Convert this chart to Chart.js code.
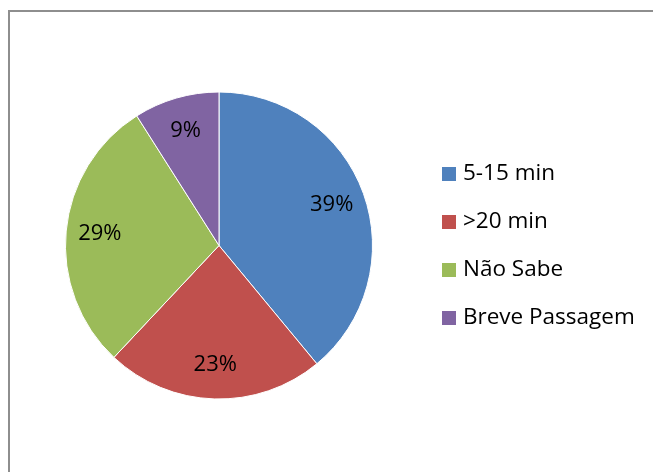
<!DOCTYPE html>
<html>
<head>
<meta charset="utf-8">
<script src="https://cdn.jsdelivr.net/npm/chart.js@4"></script>
<style>
  body { margin: 0; background: #fff; }
  #frame {
    position: absolute; left: 8px; top: 10px; width: 700px; height: 500px;
    border-left: 2px solid #8e8e8e; border-top: 2px solid #8e8e8e;
  }
  #wrap { position: absolute; left: 0; top: 0; width: 653px; height: 472px; }
</style>
</head>
<body>
<div id="frame"></div>
<div id="wrap"><canvas id="chart" width="653" height="472"></canvas></div>
<script>
// chart data
var categories = ["5-15 min", ">20 min", "Não Sabe", "Breve Passagem"];
var percents = [39, 23, 29, 9];
var colors = ["#4F81BD", "#C0504D", "#9BBB59", "#8064A2"];
var fontFamily = "'Open Sans', sans-serif";

// percent labels inside the slices
const sliceLabels = {
  id: "sliceLabels",
  afterDatasetsDraw(chart) {
    const ctx = chart.ctx;
    const meta = chart.getDatasetMeta(0);
    ctx.save();
    ctx.font = "22px " + fontFamily;
    ctx.fillStyle = "#000";
    ctx.textAlign = "center";
    ctx.textBaseline = "middle";
    meta.data.forEach((arc, i) => {
      const p = arc.getProps(["x", "y", "startAngle", "endAngle", "outerRadius"], true);
      const mid = (p.startAngle + p.endAngle) / 2;
      const r = p.outerRadius * 0.78;
      ctx.fillText(percents[i] + "%", p.x + Math.cos(mid) * r, p.y + Math.sin(mid) * r);
    });
    ctx.restore();
  },
};

// legend on the right side
const sideLegend = {
  id: "sideLegend",
  afterDraw(chart) {
    const ctx = chart.ctx;
    ctx.save();
    ctx.font = "22.5px " + fontFamily;
    ctx.textBaseline = "middle";
    ctx.textAlign = "left";
    categories.forEach((c, i) => {
      const y = 174 + i * 48;
      ctx.fillStyle = colors[i];
      ctx.fillRect(442, y - 7, 14, 14);
      ctx.fillStyle = "#000";
      ctx.fillText(c, 463, y);
    });
    ctx.restore();
  },
};

const chart = new Chart(document.getElementById("chart"), {
  type: "pie",
  data: {
    labels: categories,
    datasets: [
      {
        data: percents,
        backgroundColor: colors,
        borderColor: "#ffffff",
        borderWidth: 1,
      },
    ],
  },
  options: {
    responsive: false,
    animation: false,
    layout: { padding: { top: 91, bottom: 72, left: 65, right: 280 } },
    plugins: {
      legend: { display: false },
      tooltip: { enabled: false },
    },
  },
  plugins: [sliceLabels, sideLegend],
});
</script>
</body>
</html>
